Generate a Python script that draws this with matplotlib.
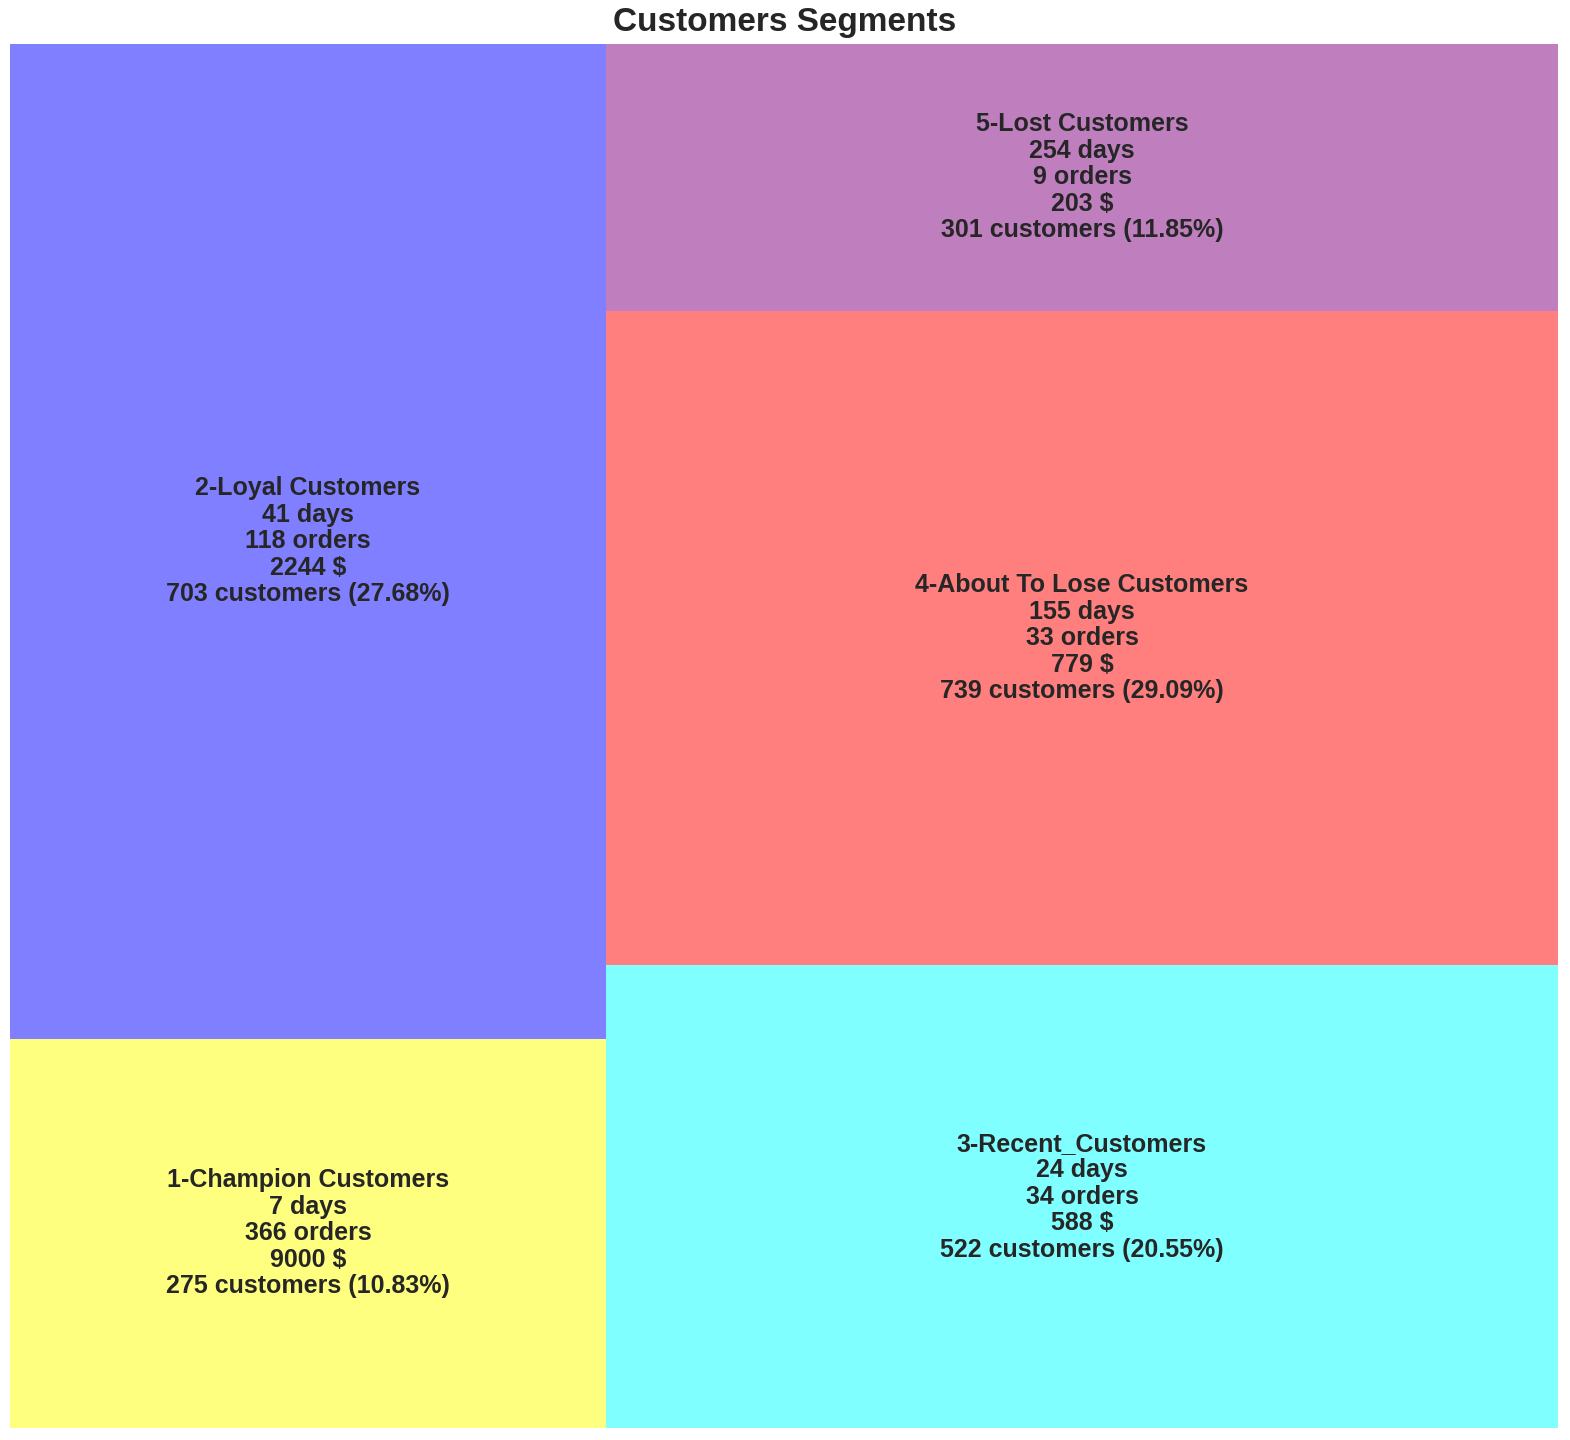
import matplotlib
matplotlib.use("Agg")
import matplotlib.pyplot as plt
from matplotlib.patches import Rectangle

segments = ["1-Champion Customers", "2-Loyal Customers", "3-Recent_Customers",
            "4-About To Lose Customers", "5-Lost Customers"]
days = [7, 41, 24, 155, 254]
orders = [366, 118, 34, 33, 9]
money = [9000, 2244, 588, 779, 203]
customers = [275, 703, 522, 739, 301]
colors = ["yellow", "blue", "cyan", "red", "purple"]


# --- small squarify port (pip squarify not available) ---
def layoutrow(sizes, x, y, dx, dy):
    covered = sum(sizes)
    width = covered / dy
    rects = []
    for s in sizes:
        rects.append((x, y, width, s / width))
        y += s / width
    return rects

def layoutcol(sizes, x, y, dx, dy):
    covered = sum(sizes)
    height = covered / dx
    rects = []
    for s in sizes:
        rects.append((x, y, s / height, height))
        x += s / height
    return rects

def layout(sizes, x, y, dx, dy):
    return layoutrow(sizes, x, y, dx, dy) if dx >= dy else layoutcol(sizes, x, y, dx, dy)

def leftover(sizes, x, y, dx, dy):
    covered = sum(sizes)
    if dx >= dy:
        w = covered / dy
        return x + w, y, dx - w, dy
    h = covered / dx
    return x, y + h, dx, dy - h

def worst_ratio(sizes, x, y, dx, dy):
    return max(max(r[2] / r[3], r[3] / r[2]) for r in layout(sizes, x, y, dx, dy))

def squarify(sizes, x, y, dx, dy):
    if len(sizes) == 0:
        return []
    if len(sizes) == 1:
        return layout(sizes, x, y, dx, dy)
    i = 1
    while i < len(sizes) and worst_ratio(sizes[:i], x, y, dx, dy) >= worst_ratio(sizes[:i + 1], x, y, dx, dy):
        i += 1
    current = sizes[:i]
    remaining = sizes[i:]
    lx, ly, ldx, ldy = leftover(current, x, y, dx, dy)
    return layout(current, x, y, dx, dy) + squarify(remaining, lx, ly, ldx, ldy)


W, H = 100.0, 100.0
total = sum(customers)
norm = [c * W * H / total for c in customers]
rects = squarify(norm, 0, 0, W, H)

plt.rcParams['font.family'] = ['Liberation Sans', 'DejaVu Sans']
fig = plt.figure(figsize=(15.7, 14.4), dpi=100)
ax = fig.add_axes([10 / 1570, 12 / 1440, 1548 / 1570, 1384 / 1440])

for (rx, ry, rw, rh), c, seg, d, o, m, n in zip(rects, colors, segments, days, orders, money, customers):
    ax.add_patch(Rectangle((rx, ry), rw, rh, facecolor=c, alpha=0.5, linewidth=0))
    label = "{}\n{} days\n{} orders\n{} $\n{} customers ({}%)".format(
        seg, d, o, m, n, round(n / total * 100, 2))
    ax.text(rx + rw / 2, ry + rh / 2, label, ha="center", va="center",
            fontsize=18, fontweight="bold", color="#262626", linespacing=1.13)

ax.set_xlim(0, W)
ax.set_ylim(0, H)
ax.axis("off")
fig.text(0.5, 1 - 23 / 1440, "Customers Segments", ha="center", va="center",
         fontsize=24, fontweight="bold", color="#262626")

fig.savefig("out.png", dpi=100)
